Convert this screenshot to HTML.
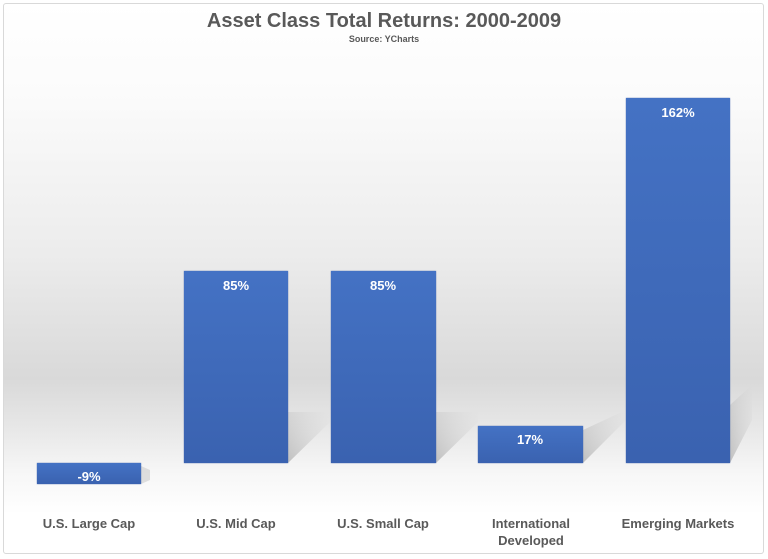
<!DOCTYPE html>
<html><head><meta charset="utf-8"><style>
body{margin:0;width:768px;height:559px;background:#fff;overflow:hidden;font-family:"Liberation Sans",Arial,sans-serif}
.frame{position:absolute;left:3px;top:3px;width:761px;height:551px;border:1px solid #d9d9d9;border-radius:3px;box-sizing:border-box;
background:linear-gradient(to bottom,#fff 0px,#fbfbfb 90px,#ececec 250px,#d9d9d9 375px,#e6e6e6 420px,#f7f7f7 470px,#fff 510px)}
.t{position:absolute;left:0;width:768px;text-align:center;color:#595959;font-weight:bold}
.bar{position:absolute;background:linear-gradient(to bottom,#4472c4,#3a62b0);box-shadow:0 0 1px #3a5ea8}
.v{position:absolute;color:#fff;font-weight:bold;font-size:13px;text-align:center;width:104px}
.l{position:absolute;color:#595959;font-weight:bold;font-size:13px;text-align:center;width:150px;line-height:17px}
</style></head><body>
<div class="frame"></div>
<div class="t" style="top:10px;font-size:20px">Asset Class Total Returns: 2000-2009</div>
<div class="t" style="top:34px;font-size:9px">Source: YCharts</div>
<svg width="768" height="559" style="position:absolute;left:0;top:0">
<defs><linearGradient id="s" x1="0" y1="1" x2="1" y2="0"><stop offset="0" stop-color="#aaa" stop-opacity=".7"/><stop offset="1" stop-color="#ccc" stop-opacity="0"/></linearGradient></defs>
<polygon points="288,463 288,412 330,412 330,422" fill="url(#s)"/>
<polygon points="436,463 436,412 478,412 478,422" fill="url(#s)"/>
<polygon points="583,463 583,430 626,410 626,420" fill="url(#s)"/>
<polygon points="730,463 730,405 752,385 752,420" fill="url(#s)"/>
<polygon points="141,484 141,466 150,470 150,480" fill="#ccc" opacity=".6"/>
</svg>
<div class="bar" style="left:37px;top:463px;width:104px;height:21px"></div>
<div class="bar" style="left:184px;top:271px;width:104px;height:192px"></div>
<div class="bar" style="left:331px;top:271px;width:105px;height:192px"></div>
<div class="bar" style="left:478px;top:426px;width:105px;height:37px"></div>
<div class="bar" style="left:626px;top:98px;width:104px;height:365px"></div>
<div class="v" style="left:37px;top:469px">-9%</div>
<div class="v" style="left:184px;top:278px">85%</div>
<div class="v" style="left:331px;top:278px">85%</div>
<div class="v" style="left:478px;top:432px">17%</div>
<div class="v" style="left:626px;top:105px">162%</div>
<div class="l" style="left:14px;top:515px">U.S. Large Cap</div>
<div class="l" style="left:161px;top:515px">U.S. Mid Cap</div>
<div class="l" style="left:308px;top:515px">U.S. Small Cap</div>
<div class="l" style="left:456px;top:515px">International<br>Developed</div>
<div class="l" style="left:603px;top:515px">Emerging Markets</div>
</body></html>
